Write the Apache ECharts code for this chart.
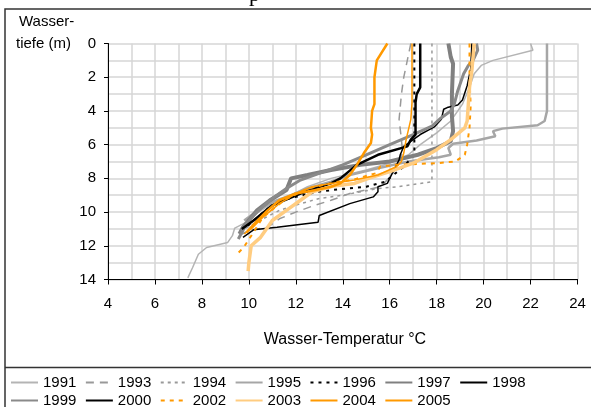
<!DOCTYPE html>
<html><head><meta charset="utf-8">
<script src="https://cdn.jsdelivr.net/npm/echarts@6/dist/echarts.min.js"></script>
<style>html,body{margin:0;padding:0;background:#fff}#c{width:591px;height:407px}</style>
</head><body><div id="c"></div>
<script>
// Tick labels
const xTicks = [4, 6, 8, 10, 12, 14, 16, 18, 20, 22, 24];
const yTicks = [0, 2, 4, 6, 8, 10, 12, 14];
const years = ['1991','1993','1994','1995','1996','1997','1998','1999','2000','2002','2003','2004','2005'];

// Profiles: [temperature °C, depth m]
const d1991 = [[22.0,0],[22.1,0.4],[20.4,1.0],[19.9,1.3],[19.6,1.8],[19.4,2.6],[19.1,3.6],[18.6,4.6],[18.0,5.3],[17.3,6.0],[16.8,6.6],[16.0,7.1],[15.0,7.5],[13.5,8.0],[12.5,8.5],[11.8,9.0],[11.0,9.5],[10.4,10.0],[9.9,10.6],[9.4,10.95],[9.3,11.4],[9.1,11.8],[8.2,12.1],[7.85,12.5],[7.6,13.3],[7.4,13.9]];
const d1993 = [[16.9,0],[16.75,1],[16.6,2],[16.5,3],[16.4,4.5],[16.5,5.7],[16.55,6.5],[16.3,7.2],[16.1,7.8],[15.6,8.5],[14.3,8.9],[13.5,9.3],[12.8,9.6],[12.0,10.0],[11.3,10.4],[10.8,10.9],[10.0,11.1],[9.7,11.3]];
const d1994 = [[17.8,0],[17.8,8.2],[16.3,8.5],[15.5,8.6],[14.0,9.0],[13.0,9.2],[12.2,9.5],[11.3,9.9],[10.6,10.4],[9.8,11.0]];
const d1995 = [[22.7,0],[22.7,4.0],[22.6,4.6],[22.3,4.85],[20.8,5.05],[20.4,5.2],[20.5,5.5],[19.7,5.75],[18.7,5.95],[18.5,6.2],[18.6,6.6],[18.1,6.75],[16.8,7.0],[15.5,7.4],[14.3,7.8],[13.5,8.2],[12.5,8.6],[11.8,9.0],[11.0,9.4],[10.5,9.8],[10.0,10.3],[9.8,10.5]];
const d1996 = [[17.05,0],[17.05,6.6],[16.6,7.3],[15.8,8.2],[15.0,8.5],[13.5,8.7],[12.9,8.8],[12.0,9.1],[11.4,9.3],[10.8,9.8],[10.3,10.4],[9.8,11.0]];
const d1997 = [[18.5,0],[18.6,0.8],[18.7,1.2],[18.65,3.0],[18.65,4.3],[18.7,5.2],[18.6,5.8],[18.0,6.2],[17.2,6.6],[16.0,7.0],[14.75,7.2],[13.5,7.5],[12.5,7.8],[11.8,8.0],[11.6,8.7],[10.9,9.3],[10.35,9.9],[9.75,10.9],[9.6,11.3]];
const d1998 = [[19.5,0],[19.45,1.5],[19.3,2.5],[19.1,3.35],[18.9,3.65],[18.45,3.8],[18.3,3.9],[18.2,4.5],[17.9,4.95],[17.3,5.4],[16.6,6.1],[16.45,6.6],[16.4,6.9],[16.0,8.0],[15.9,8.3],[15.5,8.5],[15.5,8.8],[15.3,9.1],[14.3,9.5],[13.0,10.2],[12.95,10.6],[11.2,10.9],[10.2,11.05],[9.75,11.5]];
const d1999 = [[19.7,0],[19.75,0.4],[19.55,1.0],[19.35,1.3],[19.15,1.8],[18.9,2.8],[18.75,3.6],[18.6,4.0],[18.2,4.4],[17.8,4.9],[17.0,5.4],[16.0,6.0],[15.0,6.6],[14.0,7.2],[13.2,7.6],[12.2,8.1],[11.6,8.6],[11.0,9.2],[10.5,9.8],[10.2,10.2],[9.9,10.7],[9.55,11.6]];
const d2000 = [[17.3,0],[17.3,2.6],[17.15,3.0],[17.1,3.5],[17.1,5.4],[16.9,5.7],[16.75,6.1],[15.5,6.6],[14.6,7.2],[13.9,8.0],[13.5,8.3],[12.2,8.9],[11.0,9.6],[10.2,10.5],[9.7,11.0]];
const d2002 = [[19.4,0],[19.4,2],[19.45,3.7],[19.4,5],[19.3,6],[19.2,6.6],[18.8,7.0],[18.0,7.1],[16.2,7.2],[15.6,7.3],[15.4,7.7],[14.4,8.1],[13.8,8.2],[12.5,8.6],[11.5,9.3],[10.6,10.3],[10.2,11.2],[9.8,12.05],[9.5,12.5]];
const d2003 = [[19.6,0],[19.5,1.6],[19.4,2.6],[19.35,3.6],[19.3,4.6],[19.2,5.0],[18.6,5.7],[18.0,6.3],[17.0,7.1],[16.0,7.6],[15.1,8.0],[14.5,8.3],[13.6,8.45],[12.7,8.8],[12.2,9.3],[11.6,9.9],[11.0,10.5],[10.8,10.9],[10.5,11.5],[10.1,12.0],[10.0,13.0],[9.97,13.5]];
const d2004 = [[16.95,0],[16.95,3.5],[16.9,4.5],[16.7,5.7],[16.6,6.5],[16.5,7.0],[16.3,7.3],[15.5,7.8],[14.5,8.1],[13.5,8.3],[12.7,8.5],[12.0,8.9],[11.3,9.5],[10.6,10.3],[10.1,11.0],[9.8,11.3]];
const d2005 = [[15.9,0],[15.45,1.0],[15.35,2.0],[15.35,3.6],[15.25,4.0],[15.2,5.0],[15.25,5.4],[15.2,5.9],[14.9,6.5],[14.6,7.2],[14.3,7.8],[13.9,8.3],[13.5,8.5],[12.8,8.7],[12.0,8.9],[11.3,9.3],[10.8,9.9],[10.3,10.6],[9.9,11.2]];

const profiles = [d1991,d1993,d1994,d1995,d1996,d1997,d1998,d1999,d2000,d2002,d2003,d2004,d2005];
const styles = [
  {color:'#b4b4b4', width:1.5, type:'solid'},
  {color:'#999999', width:1.5, type:[8,6]},
  {color:'#999999', width:1.5, type:[3,4]},
  {color:'#a6a6a6', width:2.5, type:'solid'},
  {color:'#000000', width:2, type:[3,5]},
  {color:'#808080', width:4, type:'solid'},
  {color:'#000000', width:1.5, type:'solid'},
  {color:'#8a8a8a', width:3, type:'solid'},
  {color:'#000000', width:2.5, type:'solid'},
  {color:'#ff9900', width:2, type:[4,5]},
  {color:'#ffcc80', width:3.5, type:'solid'},
  {color:'#ff9900', width:1.5, type:'solid'},
  {color:'#ff9900', width:2.5, type:'solid'}
];

const FONT = 'Liberation Sans';
const gridColor = '#d6d6d6';
const series = years.map((y,i)=>({
  name:y, type:'line', data:profiles[i], showSymbol:false, symbol:'none',
  smooth:false, animation:false,
  lineStyle:{color:styles[i].color, width:styles[i].width, type:styles[i].type},
  itemStyle:{color:styles[i].color}
}));

function mkLegend(names, top){
  return {
    show:true, type:'plain', orient:'horizontal', left:10, top:top, padding:0,
    itemWidth:27, itemHeight:12, itemGap:8.5,
    data:names, selectedMode:false,
    itemStyle:{opacity:0},
    textStyle:{fontFamily:FONT, fontSize:15, color:'#000'}
  };
}

const chart = echarts.init(document.getElementById('c'), null, {renderer:'canvas'});
chart.setOption({
  animation:false,
  grid:{left:108, right:13.5, top:43.5, bottom:127.5, containLabel:false},
  xAxis:{type:'value', min:xTicks[0], max:xTicks[xTicks.length-1], interval:2,
    axisLine:{show:true, onZero:false, lineStyle:{color:'#000', width:1}},
    axisTick:{show:true, length:5, lineStyle:{color:'#000'}},
    axisLabel:{fontFamily:FONT, fontSize:15, color:'#000', margin:17},
    splitLine:{show:true, lineStyle:{color:gridColor, width:1.5}},
    minorTick:{show:false, splitNumber:2},
    minorSplitLine:{show:true, lineStyle:{color:gridColor, width:1.5}}
  },
  yAxis:{type:'value', inverse:true, min:yTicks[0], max:yTicks[yTicks.length-1], interval:2,
    axisLine:{show:true, onZero:false, lineStyle:{color:'#000', width:1}},
    axisTick:{show:true, length:4, lineStyle:{color:'#000'}},
    axisLabel:{fontFamily:FONT, fontSize:15, color:'#000', margin:12},
    splitLine:{show:true, lineStyle:{color:gridColor, width:1.5}},
    minorTick:{show:false, splitNumber:2},
    minorSplitLine:{show:true, lineStyle:{color:gridColor, width:1.5}}
  },
  legend:[ mkLegend(years.slice(0,7), 375), mkLegend(years.slice(7), 393) ],
  graphic:[
    {type:'rect', shape:{x:5,y:9,width:620,height:440}, style:{fill:'none', stroke:'#333', lineWidth:1.5}, silent:true, z:-1},
    {type:'line', shape:{x1:5,y1:367.5,x2:591,y2:367.5}, style:{stroke:'#333', lineWidth:1.5}, silent:true},
    {type:'text', x:249, y:-16, style:{text:'p', font:'22px "Liberation Serif"', fill:'#000'}},
    {type:'text', x:19, y:14, style:{text:'Wasser-', font:'15px "Liberation Sans"', fill:'#000'}},
    {type:'text', x:16, y:36, style:{text:'tiefe (m)', font:'15px "Liberation Sans"', fill:'#000'}},
    {type:'text', x:345, y:340, style:{text:'Wasser-Temperatur °C', font:'16px "Liberation Sans"', fill:'#000', textAlign:'center', textVerticalAlign:'middle'}}
  ],
  series:series
});
</script>
</body></html>
